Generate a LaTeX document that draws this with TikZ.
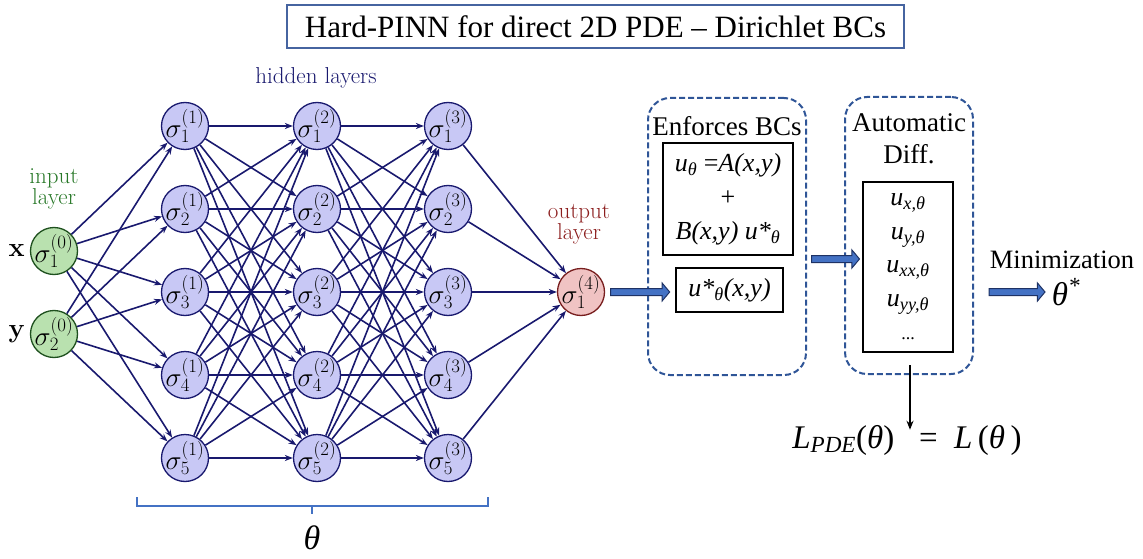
\RequirePackage{fix-cm}
\documentclass[tikz,border=0pt]{standalone}
\usepackage{fontspec}
\newfontfamily\tnr{Liberation Serif}
\usetikzlibrary{arrows.meta,shapes.arrows}
\definecolor{navyd}{RGB}{25,25,110}
\definecolor{hidfill}{RGB}{200,200,245}
\definecolor{infill}{RGB}{185,225,175}
\definecolor{indraw}{RGB}{30,80,30}
\definecolor{intext}{RGB}{40,120,40}
\definecolor{outfill}{RGB}{240,195,195}
\definecolor{outdraw}{RGB}{120,30,30}
\definecolor{outtext}{RGB}{140,30,30}
\definecolor{dashblue}{RGB}{47,85,151}
\definecolor{titleblue}{RGB}{70,100,160}
\definecolor{arrblue}{RGB}{68,114,196}
\definecolor{arrdark}{RGB}{30,50,100}
\tikzset{
  neuron/.style={circle, minimum size=47pt, inner sep=-6pt, line width=1.3pt, font=\fontsize{27}{29}\selectfont},
  hid/.style={neuron, draw=navyd, fill=hidfill},
  inp/.style={neuron, draw=indraw, fill=infill},
  outp/.style={neuron, draw=outdraw, fill=outfill},
  edge/.style={draw=navyd, line width=1.6pt, -{Stealth[length=8pt,width=6pt]}},
  lbl/.style={font=\fontsize{23}{23}\selectfont, inner sep=0pt},
  dbox/.style={draw=dashblue, line width=2pt, dash pattern=on 6pt off 3pt, rounded corners=22pt},
  sbox/.style={draw=black, line width=1.2pt, align=center, inner sep=0pt},
  tnrtext/.style={font=\tnr\fontsize{27}{32}\selectfont, align=center, inner sep=0pt},
  bigarr/.style={single arrow, draw=arrdark, fill=arrblue, line width=1pt, inner sep=3pt, single arrow head extend=5.5pt, single arrow tip angle=100},
  brk/.style={draw=arrblue, line width=2.2pt}
}
\begin{document}
\begin{tikzpicture}[x=1pt,y=-1pt]
\useasboundingbox (0,0) rectangle (1143,559);
% title
\node[draw=titleblue, line width=1.3pt, minimum width=617pt, minimum height=43pt, inner sep=0pt, font=\tnr\fontsize{31}{34}\selectfont] (title) at (595.5,26.5) {Hard-PINN for direct 2D PDE – Dirichlet BCs};
% input
\node[inp] (i1) at (54,251) {$\sigma_1^{(0)}$};
\node[inp] (i2) at (54,334) {$\sigma_2^{(0)}$};
\node[lbl, text=intext, anchor=base] (inlbl1) at (54,183) {input};
\node[lbl, text=intext, anchor=base] (inlbl2) at (54,204) {layer};
\node[font=\bfseries\fontsize{27}{30}\selectfont, anchor=east, inner sep=0pt] (xl) at ([xshift=-5pt]i1.west) {x};
\node[font=\bfseries\fontsize{27}{30}\selectfont, anchor=east, inner sep=0pt] (yl) at ([xshift=-5pt]i2.west) {y};
% hidden
\foreach \l/\x in {1/185,2/317,3/448}{
  \foreach \i/\y in {1/126,2/209,3/292,4/375,5/458}{
    \node[hid] (h\l\i) at (\x,\y) {$\sigma_\i^{(\l)}$};
  }
}
\node[lbl, text=navyd] (hidlbl) at (316,78) {hidden layers};
% output
\node[outp] (o1) at (581,292) {$\sigma_1^{(4)}$};
\node[lbl, text=outtext, anchor=base] (outlbl1) at (579,218) {output};
\node[lbl, text=outtext, anchor=base] (outlbl2) at (579,239) {layer};
% edges
\foreach \i in {1,2}{\foreach \j in {1,...,5}{\draw[edge] (i\i) -- (h1\j);}}
\foreach \l/\m in {1/2,2/3}{\foreach \i in {1,...,5}{\foreach \j in {1,...,5}{\draw[edge] (h\l\i) -- (h\m\j);}}}
\foreach \i in {1,...,5}{\draw[edge] (h3\i) -- (o1);}
% bracket
\coordinate (bl) at (137,497);
\coordinate (br) at (488,497);
\coordinate (bm) at (312,506);
\draw[brk] (bl) -- (bl|-bm) -- (br|-bm) -- (br);
\draw[brk] (bm) -- ++(0,8);
\node[font=\tnr\itshape\fontsize{34}{36}\selectfont, inner sep=0pt] (theta) at (312,538) {θ};
% enforces box
\node[dbox, minimum width=158pt, minimum height=277pt] (enf) at (727,236.5) {};
\node[tnrtext] (enft) at (727,126) {Enforces BCs};
\node[sbox, minimum width=130pt, minimum height=112pt, font=\tnr\fontsize{26}{34}\selectfont] (fbox) at (728,199)
  {\itshape u\textsubscript{θ}\upshape\ =\itshape A(x,y)\\ \upshape +\\ \itshape B(x,y) u*\textsubscript{θ}};
\node[sbox, minimum width=107pt, minimum height=44pt, font=\tnr\itshape\fontsize{26}{30}\selectfont] (ubox) at (729.5,290) {u*\textsubscript{θ}(x,y)};
% autodiff box
\node[dbox, minimum width=128pt, minimum height=277pt] (ad) at (909,235.5) {};
\node[tnrtext] (adt) at (909,139) {Automatic\\Diff.};
\node[sbox, minimum width=90pt, minimum height=170pt, font=\tnr\itshape\fontsize{26}{33.5}\selectfont] (dbx) at (908,267)
  {u\textsubscript{x,θ}\\ u\textsubscript{y,θ}\\ u\textsubscript{xx,θ}\\ u\textsubscript{yy,θ}\\ \upshape\fontsize{18}{20}\selectfont ...};
% big arrows
\node[bigarr, minimum height=59pt, anchor=west] (a1) at ([xshift=5pt]o1.east) {};
\node[bigarr, minimum height=48pt, anchor=west] (a2) at ([xshift=4pt,yshift=-22.5pt]enf.east) {};
\node[tnrtext, font=\tnr\fontsize{26.5}{30}\selectfont] (mint) at (1062,260) {Minimization};
\node[font=\tnr\itshape\fontsize{33}{36}\selectfont, inner sep=0pt] (ths) at (1066,292) {θ\textsuperscript{*}};
\node[bigarr, minimum height=56pt, anchor=east] (a3) at ([xshift=-6pt]ths.west) {};
% loss
\node[font=\tnr\fontsize{33}{36}\selectfont, inner sep=0pt] (loss) at (907,440)
  {\itshape L\textsubscript{PDE}\upshape(\itshape θ\upshape)\ \ \ =\ \ \itshape L\upshape\,(\itshape θ\upshape\,)};
\draw[line width=1.5pt, -{Stealth[length=9pt,width=7pt]}] ([xshift=1pt,yshift=10pt]ad.south) -- ([xshift=3pt,yshift=-5pt]loss.north);
\end{tikzpicture}
\end{document}
